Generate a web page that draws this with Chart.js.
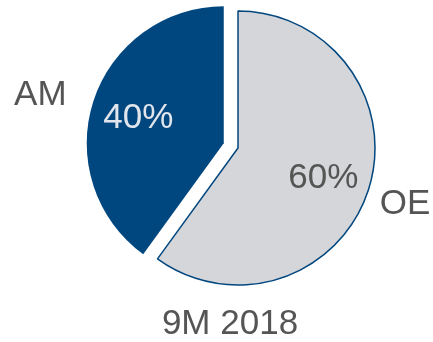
<!DOCTYPE html>
<html>
<head>
<meta charset="utf-8">
<script src="https://cdn.jsdelivr.net/npm/chart.js@4/dist/chart.umd.min.js"></script>
<style>
    html, body { margin: 0; padding: 0; background: #fff; }
    #wrap { width: 433px; height: 342px; }
</style>
</head>
<body>
<div id="wrap"><canvas id="myChart" width="433" height="342"></canvas></div>
<script>
// data
const segments = ['AM', 'OE'];
const shares = [40, 60];
const period = '9M 2018';

const fillColors = ['#00467f', '#d5d6d9'];
const edgeColors = ['#00467f', '#00467f'];
const pctColors = ['#e1e5ec', '#555555'];

// move the pie a bit right of the title, and pull a slice out along its middle angle
// (without growing it like the built-in offset does)
const explodePlugin = {
    id: 'explode',
    afterDatasetUpdate(chart, args, opts) {
        const meta = chart.getDatasetMeta(args.index);
        meta.data.forEach((arc, i) => {
            const d = opts.shift[i] || 0;
            const mid = (arc.startAngle + arc.endAngle) / 2;
            arc.x += Math.cos(mid) * d + opts.dx;
            arc.y += Math.sin(mid) * d;
        });
    }
};

// category names outside, percentages inside (text centred on cap height)
const sliceLabels = {
    id: 'sliceLabels',
    afterDatasetsDraw(chart, args, opts) {
        const ctx = chart.ctx;
        const meta = chart.getDatasetMeta(0);
        const capHalf = opts.size * 0.358;
        ctx.save();
        ctx.font = opts.size + 'px "Liberation Sans", Arial, sans-serif';
        ctx.textAlign = 'center';
        ctx.textBaseline = 'alphabetic';
        meta.data.forEach((arc, i) => {
            const mid = (arc.startAngle + arc.endAngle) / 2;
            const r = arc.outerRadius;
            ctx.fillStyle = pctColors[i];
            ctx.fillText(shares[i] + '%', arc.x + Math.cos(mid) * r * 0.655, arc.y + Math.sin(mid) * r * 0.655 + capHalf);
            const a = mid + opts.nudge[i] * Math.PI / 180;
            const k = opts.outer[i];
            ctx.fillStyle = opts.color;
            ctx.fillText(segments[i], arc.x + Math.cos(a) * r * k, arc.y + Math.sin(a) * r * k + capHalf);
        });
        ctx.restore();
    }
};

const ctx = document.getElementById('myChart').getContext('2d');
const myChart = new Chart(ctx, {
    type: 'pie',
    data: {
        labels: segments,
        datasets: [{
            data: shares,
            backgroundColor: fillColors,
            borderColor: edgeColors,
            borderWidth: [0, 1.5],
            radius: 137
        }]
    },
    options: {
        responsive: false,
        animation: false,
        rotation: -144,
        layout: { padding: { left: 27, right: 0, top: 3, bottom: 0 } },
        plugins: {
            legend: { display: false },
            tooltip: { enabled: false },
            title: {
                display: true,
                text: period,
                position: 'bottom',
                color: '#555555',
                font: { family: 'Liberation Sans, Arial, sans-serif', size: 35, weight: 'normal', lineHeight: 1 },
                padding: { top: 14, bottom: 0 }
            },
            explode: { shift: [15, 0], dx: 8 },
            sliceLabels: {
                size: 35,
                color: '#555555',
                outer: [1.39, 1.28],
                nudge: [-2.4, -0.3]
            }
        }
    },
    plugins: [explodePlugin, sliceLabels]
});
</script>
</body>
</html>
